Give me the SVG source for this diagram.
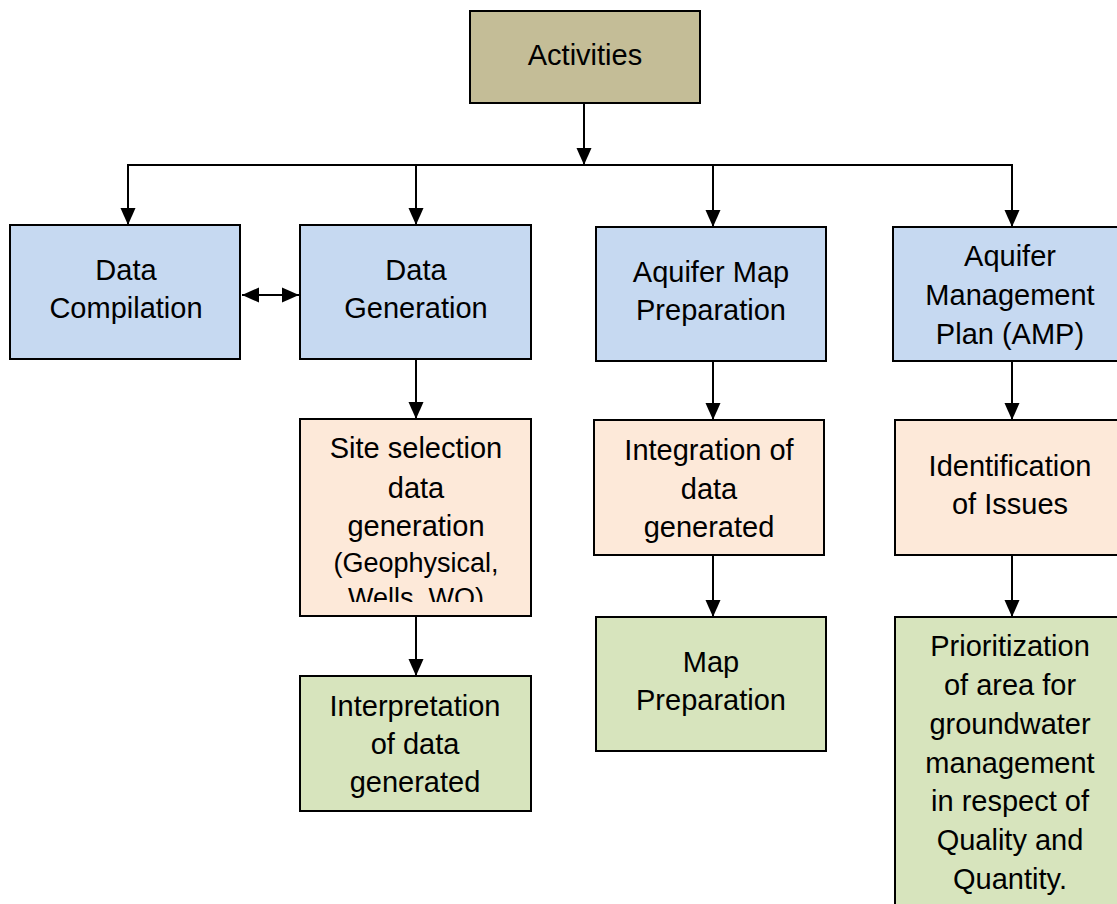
<svg xmlns="http://www.w3.org/2000/svg" width="1117" height="904" viewBox="0 0 1117 904">
<style>
.box{stroke:#000;stroke-width:2}
.tan{fill:#c4bd97}.blue{fill:#c6d9f1}.peach{fill:#fde9d9}.green{fill:#d7e4bd}
text{font-family:"Liberation Sans",Arial,sans-serif;font-size:29px;fill:#000;text-anchor:middle}
.sm{font-size:27px}
.ln{stroke:#000;stroke-width:2;fill:none}
</style>
<defs>
<marker id="ah" markerUnits="userSpaceOnUse" markerWidth="18" markerHeight="18" viewBox="0 0 18 18" refX="17" refY="9" orient="auto-start-reverse">
<path d="M0,1.5 L17,9 L0,16.5 Z" fill="#000"/>
</marker>
<clipPath id="clipSite"><rect x="300" y="419" width="231" height="183"/></clipPath>
</defs>
<g id="connectors">
<line class="ln" x1="584" y1="103" x2="584" y2="165" marker-end="url(#ah)"/>
<line class="ln" x1="127" y1="165" x2="1013" y2="165"/>
<line class="ln" x1="128" y1="165" x2="128" y2="225" marker-end="url(#ah)"/>
<line class="ln" x1="416" y1="165" x2="416" y2="225" marker-end="url(#ah)"/>
<line class="ln" x1="713" y1="165" x2="713" y2="227" marker-end="url(#ah)"/>
<line class="ln" x1="1012" y1="165" x2="1012" y2="227" marker-end="url(#ah)"/>
<line class="ln" x1="242" y1="295" x2="299" y2="295" marker-start="url(#ah)" marker-end="url(#ah)"/>
<line class="ln" x1="416" y1="359" x2="416" y2="419" marker-end="url(#ah)"/>
<line class="ln" x1="416" y1="616" x2="416" y2="676" marker-end="url(#ah)"/>
<line class="ln" x1="713" y1="361" x2="713" y2="420" marker-end="url(#ah)"/>
<line class="ln" x1="713" y1="555" x2="713" y2="617" marker-end="url(#ah)"/>
<line class="ln" x1="1012" y1="361" x2="1012" y2="420" marker-end="url(#ah)"/>
<line class="ln" x1="1012" y1="555" x2="1012" y2="617" marker-end="url(#ah)"/>
</g>
<g id="activities"><rect class="box tan" x="470" y="11" width="230" height="92"/><text x="585" y="65">Activities</text></g>
<g id="data-compilation"><rect class="box blue" x="10" y="225" width="230" height="134"/><text x="126" y="280">Data</text><text x="126" y="318">Compilation</text></g>
<g id="data-generation"><rect class="box blue" x="300" y="225" width="231" height="134"/><text x="416" y="280">Data</text><text x="416" y="318">Generation</text></g>
<g id="aquifer-map"><rect class="box blue" x="596" y="227" width="230" height="134"/><text x="711" y="282">Aquifer Map</text><text x="711" y="320">Preparation</text></g>
<g id="amp"><rect class="box blue" x="893" y="227" width="232" height="134"/><text x="1010" y="266">Aquifer</text><text x="1010" y="305">Management</text><text x="1010" y="344">Plan (AMP)</text></g>
<g id="site-selection"><rect class="box peach" x="300" y="419" width="231" height="197"/>
<g clip-path="url(#clipSite)"><text x="416" y="458">Site selection</text><text x="416" y="498">data</text><text x="416" y="536">generation</text><text class="sm" x="416" y="572">(Geophysical,</text><text class="sm" x="416" y="607">Wells, WQ)</text></g></g>
<g id="interpretation"><rect class="box green" x="300" y="676" width="231" height="135"/><text x="415" y="716">Interpretation</text><text x="415" y="754">of data</text><text x="415" y="792">generated</text></g>
<g id="integration"><rect class="box peach" x="594" y="420" width="230" height="135"/><text x="709" y="460">Integration of</text><text x="709" y="499">data</text><text x="709" y="537">generated</text></g>
<g id="map-preparation"><rect class="box green" x="596" y="617" width="230" height="134"/><text x="711" y="672">Map</text><text x="711" y="710">Preparation</text></g>
<g id="identification"><rect class="box peach" x="895" y="420" width="230" height="135"/><text x="1010" y="476">Identification</text><text x="1010" y="514">of Issues</text></g>
<g id="prioritization"><rect class="box green" x="895" y="617" width="230" height="300"/><text x="1010" y="656">Prioritization</text><text x="1010" y="695">of area for</text><text x="1010" y="734">groundwater</text><text x="1010" y="773">management</text><text x="1010" y="811">in respect of</text><text x="1010" y="850">Quality and</text><text x="1010" y="889">Quantity.</text></g>
</svg>
